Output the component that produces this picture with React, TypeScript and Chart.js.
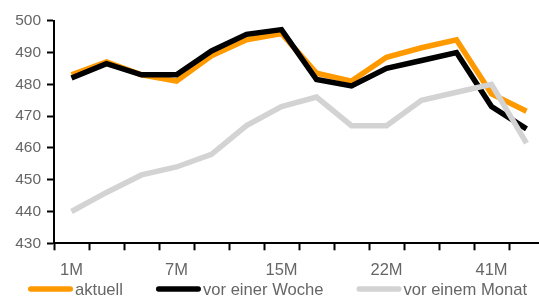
import React, { useEffect, useRef } from "react";
import { Chart, registerables } from "chart.js";

Chart.register(...registerables);

const categories = ["1M", "3M", "5M", "7M", "10M", "12M", "15M", "18M", "20M", "22M", "30M", "36M", "41M", "48M"];
const shownLabels = ["1M", "7M", "15M", "22M", "41M"];
const aktuell = [483, 487, 483, 481, 489, 494, 496, 483.5, 481, 488.5, 491.5, 494, 477, 471.5];
const vorEinerWoche = [482, 486.5, 483, 483, 490.5, 495.7, 497.2, 481.5, 479.5, 485, 487.5, 490, 473, 466];
const vorEinemMonat = [440, 446, 451.5, 454, 458, 467, 473, 476, 467, 467, 475, 477.5, 480, 461.5];
const seriesNames = ["aktuell", "vor einer Woche", "vor einem Monat"];
const seriesColors = ["#FF9900", "#000000", "#D3D3D3"];
const yTicks = { min: 430, max: 500, step: 10 };

const legendPlugin = {
  id: "customLegend",
  afterDraw(chart: any) {
    const ctx = chart.ctx;
    ctx.save();
    ctx.font = "16.6px 'Liberation Sans', Arial, sans-serif";
    ctx.textBaseline = "middle";
    let x = 28;
    const y = 289;
    chart.data.datasets.forEach((ds: any) => {
      ctx.strokeStyle = ds.borderColor;
      ctx.lineWidth = 5.5;
      ctx.lineCap = "round";
      ctx.beginPath();
      ctx.moveTo(x + 2.75, y);
      ctx.lineTo(x + 45 - 2.75, y);
      ctx.stroke();
      ctx.fillStyle = "#666";
      const tx = x + 47;
      ctx.fillText(ds.label, tx, y + 1);
      x = tx + ctx.measureText(ds.label).width + 33;
    });
    ctx.restore();
  },
};

export default function App() {
  const ref = useRef<HTMLCanvasElement>(null);
  useEffect(() => {
    if (!ref.current) return;
    const data = [aktuell, vorEinerWoche, vorEinemMonat];
    const chart = new Chart(ref.current, {
      type: "line",
      data: {
        labels: categories,
        datasets: data.map((d, i) => ({
          label: seriesNames[i],
          data: d,
          borderColor: seriesColors[i],
          backgroundColor: seriesColors[i],
          borderWidth: 5.5,
          pointRadius: 0,
          tension: 0,
          fill: false,
          order: 3 - i,
          borderJoinStyle: "miter" as const,
        })),
      },
      options: {
        animation: false,
        responsive: false,
        layout: { padding: { left: 0, right: 0, top: 20.7, bottom: 0 } },
        plugins: { legend: { display: false }, tooltip: { enabled: false } },
        scales: {
          x: {
            type: "category",
            offset: true,
            afterFit: (s: any) => {
              s.height = 56.7;
            },
            grid: {
              offset: true,
              drawOnChartArea: false,
              drawTicks: true,
              tickLength: 7,
              tickColor: "#000",
              tickWidth: 2,
            },
            border: { color: "#000", width: 2 },
            ticks: {
              autoSkip: false,
              maxRotation: 0,
              padding: 10,
              color: "#666",
              font: { size: 16.5, family: "'Liberation Sans', Arial, sans-serif" },
              callback: (_v: any, i: number) =>
                shownLabels.includes(categories[i]) ? categories[i] : "",
            },
          },
          y: {
            min: yTicks.min,
            max: yTicks.max,
            afterFit: (s: any) => {
              s.width = 54;
            },
            grid: {
              drawOnChartArea: false,
              drawTicks: true,
              tickLength: 7,
              tickColor: "#000",
              tickWidth: 2,
            },
            border: { color: "#000", width: 2 },
            ticks: {
              stepSize: yTicks.step,
              padding: 6,
              color: "#666",
              font: { size: 15.5, family: "'Liberation Sans', Arial, sans-serif" },
            },
          },
        },
      },
      plugins: [legendPlugin],
    });
    return () => chart.destroy();
  }, []);
  return (
    <div style={{ position: "absolute", left: 0, top: 0, width: 539, height: 300, overflow: "hidden", background: "#fff" }}>
      <canvas ref={ref} width={544} height={300} style={{ width: 544, height: 300 }} />
    </div>
  );
}
